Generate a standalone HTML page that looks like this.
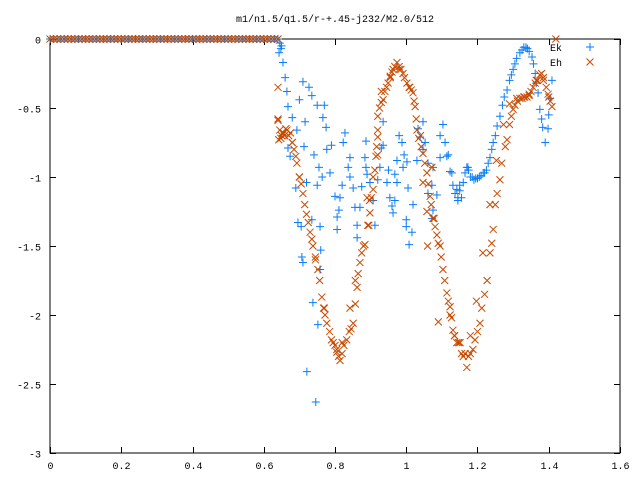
<!DOCTYPE html>
<html><head><meta charset="utf-8"><style>
body{margin:0;background:#fff}
svg text{font-family:"Liberation Mono",monospace;font-size:10px;fill:#000}
</style></head><body>
<svg id="chart" width="640" height="480" xmlns="http://www.w3.org/2000/svg">
<rect width="640" height="480" fill="#fff"/>
<text x="335" y="22" text-anchor="middle">m1/n1.5/q1.5/r-+.45-j232/M2.0/512</text>
<g id="axes"></g>
<g id="marks"></g>
<g id="legend">
<text x="550" y="51">Ek</text>
<text x="550" y="66">Eh</text>
</g>
</svg>
<script>
const xTicks=[0,0.2,0.4,0.6,0.8,1,1.2,1.4,1.6];
const xTickLabels=["0","0.2","0.4","0.6","0.8","1","1.2","1.4","1.6"];
const yTicks=[0,-0.5,-1,-1.5,-2,-2.5,-3];
const yTickLabels=["0","-0.5","-1","-1.5","-2","-2.5","-3"];
const flatX=[0,0.01,0.02,0.03,0.04,0.05,0.06,0.07,0.08,0.09,0.1,0.11,0.12,0.13,0.14,0.15,0.16,0.17,0.18,0.19,0.2,0.21,0.22,0.23,0.24,0.25,0.26,0.27,0.28,0.29,0.3,0.31,0.32,0.33,0.34,0.35,0.36,0.37,0.38,0.39,0.4,0.41,0.42,0.43,0.44,0.45,0.46,0.47,0.48,0.49,0.5,0.51,0.52,0.53,0.54,0.55,0.56,0.57,0.58,0.59,0.6,0.61,0.62,0.63,0.64];
const flatY=[0,0,0,0,0,0,0,0,0,0,0,0,0,0,0,0,0,0,0,0,0,0,0,0,0,0,0,0,0,0,0,0,0,0,0,0,0,0,0,0,0,0,0,0,0,0,0,0,0,0,0,0,0,0,0,0,0,0,0,0,0,0,0,0,0];
const ehX=[0.64,0.64,0.64,0.642,0.645,0.665,0.693,0.71,0.725,0.738,0.752,0.763,0.777,0.795,0.814,0.833,0.851,0.862,0.87,0.884,0.898,0.907,0.912,0.92,0.92,0.935,0.949,0.963,0.974,0.991,1.002,1.019,1.025,1.03,1.047,1.058,1.067,1.081,1.095,1.103,1.114,1.123,1.131,1.142,1.151,1.17,1.187,1.207,1.227,1.244,1.263,1.283,1.3,1.319,1.339,1.356,1.375,1.393,1.409,1.42,
0.92,0.907,0.92,0.895,0.897,1.047,1.06,1.058,1.072,0.65,0.655,0.68,0.7,0.745,0.77,0.8,0.805,0.82,0.842,0.857,0.89,0.93,0.955,0.98,1.01,1.04,1.09,1.135,1.16,1.18,1.197,1.215,1.235,1.253,1.273,1.29,1.31,1.33,1.345,1.365,1.385,1.4,1.075,1.123,1.165,
0.70,0.705,0.715,0.72,0.73,0.735,0.745,0.757,0.768,0.772,0.785,0.79,0.805,0.81,0.82,0.825,0.84,0.845,0.857,0.865,0.875,0.88,0.892,0.902,0.915,0.917,0.925,0.93,0.94,0.945,0.955,0.96,0.968,0.98,0.985,0.995,1.008,1.014,1.022,1.028,1.035,1.042,1.052,1.062,1.07,1.078,1.086,1.09,1.098,1.108,1.118,1.127,1.136,1.147,1.155,1.175,1.18,1.193,1.2,1.212,1.22,1.235,1.24,1.25,1.255,1.268,1.278,1.29,1.295,1.305,1.312,1.325,1.332,1.345,1.35,1.362,1.368,1.38,1.385,1.398,1.404,
0.648,0.652,0.658,0.662,0.67,0.675,0.68,0.685,0.69];
const ehY=[-0.58,-0.35,-0.59,-0.73,-0.66,-0.66,-0.9,-1.12,-1.33,-1.5,-1.67,-1.87,-2.06,-2.2,-2.33,-2.18,-2.06,-1.8,-1.62,-1.49,-1.26,-1.09,-0.95,-0.71,-0.56,-0.44,-0.32,-0.22,-0.17,-0.25,-0.32,-0.39,-0.49,-0.66,-0.83,-0.97,-1.14,-1.36,-1.5,-1.67,-1.84,-1.94,-2.11,-2.2,-2.2,-2.38,-2.25,-2.06,-1.75,-1.38,-1.02,-0.73,-0.51,-0.43,-0.42,-0.35,-0.26,-0.35,-0.49,0,
-0.66,-1.0,-0.84,-1.35,-1.17,-1.04,-1.5,-1.25,-0.93,-0.7,-0.68,-0.75,-1.0,-1.6,-1.95,-2.22,-2.25,-2.2,-1.95,-1.75,-1.15,-0.38,-0.27,-0.22,-0.35,-0.7,-2.05,-2.15,-2.3,-2.15,-1.9,-1.55,-1.2,-0.88,-0.62,-0.47,-0.43,-0.42,-0.4,-0.3,-0.3,-0.42,-1.3,-2.0,-2.28,
-1.0,-1.05,-1.2,-1.27,-1.4,-1.45,-1.58,-1.75,-1.95,-2.0,-2.12,-2.18,-2.27,-2.3,-2.28,-2.22,-2.12,-2.1,-1.92,-1.7,-1.55,-1.5,-1.35,-1.15,-0.85,-0.78,-0.5,-0.46,-0.38,-0.35,-0.28,-0.24,-0.2,-0.2,-0.22,-0.28,-0.35,-0.37,-0.45,-0.58,-0.72,-0.78,-0.9,-1.05,-1.2,-1.3,-1.42,-1.48,-1.58,-1.75,-1.9,-2.02,-2.15,-2.2,-2.28,-2.3,-2.28,-2.18,-2.12,-1.95,-1.85,-1.55,-1.48,-1.2,-1.12,-0.9,-0.78,-0.62,-0.56,-0.48,-0.45,-0.43,-0.42,-0.41,-0.38,-0.32,-0.3,-0.25,-0.28,-0.4,-0.45,
-0.72,-0.68,-0.7,-0.65,-0.7,-0.68,-0.75,-0.8,-0.85];
const ekX=[0.643,0.645,0.648,0.65,0.654,0.66,0.665,0.668,0.70,0.71,0.727,0.735,0.75,0.77,0.766,0.775,0.68,0.716,0.693,0.668,0.674,0.713,0.741,0.69,0.72,0.755,0.764,0.75,0.777,0.79,0.786,0.82,0.823,0.828,0.80,0.814,0.811,0.806,0.806,0.696,0.705,0.735,0.758,0.707,0.71,0.76,0.758,0.738,0.752,0.721,0.746,
0.842,0.837,0.842,0.851,0.856,0.87,0.862,0.862,0.887,0.884,0.887,0.89,0.875,0.898,0.907,0.912,0.92,0.926,0.93,0.935,0.935,0.95,0.946,0.954,0.96,0.963,0.968,0.968,0.974,0.974,0.98,0.988,0.994,1.002,0.991,1.005,1.019,1.0,1.0,1.016,1.008,
1.033,1.047,1.039,1.053,1.047,1.03,1.061,1.095,1.075,1.072,1.061,1.086,1.075,1.072,1.103,1.095,1.109,1.118,1.123,1.131,1.137,1.145,1.114,1.128,1.142,1.15,1.16,1.165,1.173,1.18,1.145,1.15,1.155,1.17,1.175,1.185,1.19,1.195,
1.2,1.205,1.21,1.216,1.22,1.225,1.23,1.235,1.24,1.244,1.25,1.255,1.263,1.27,1.275,1.283,1.29,1.295,1.3,1.305,1.31,1.319,1.325,1.33,1.336,1.34,1.345,1.353,1.357,1.362,1.365,1.37,1.375,1.38,1.383,1.39,1.409,1.404,1.40,1.398];
const ekY=[-0.1,-0.03,-0.07,-0.05,-0.17,-0.28,-0.38,-0.49,-0.44,-0.31,-0.35,-0.41,-0.48,-0.48,-0.57,-0.64,-0.57,-0.6,-0.66,-0.79,-0.85,-0.78,-0.84,-1.08,-1.04,-0.93,-1.0,-1.06,-0.8,-0.77,-0.97,-1.06,-0.75,-0.68,-1.14,-1.15,-1.24,-1.29,-1.38,-1.33,-1.36,-1.31,-1.36,-1.58,-1.62,-1.53,-1.67,-1.91,-2.07,-2.41,-2.63,
-0.86,-0.93,-1.0,-1.08,-1.22,-1.22,-1.35,-1.44,-0.74,-0.86,-0.93,-0.98,-1.07,-1.04,-1.17,-1.35,-1.02,-0.93,-0.79,-0.6,-0.77,-0.95,-1.04,-1.15,-1.21,-1.26,-1.17,-0.98,-1.04,-0.88,-0.7,-0.75,-0.84,-0.89,-0.93,-1.08,-1.2,-1.31,-1.36,-1.4,-1.49,
-0.65,-0.6,-0.71,-0.75,-0.8,-0.88,-0.9,-0.86,-0.93,-1.06,-1.12,-1.13,-1.24,-1.3,-0.62,-0.7,-0.75,-0.84,-0.96,-1.06,-1.12,-1.15,-0.85,-0.97,-1.09,-1.06,-1.04,-0.97,-0.93,-1.0,-1.17,-1.1,-1.15,-0.93,-0.95,-1.0,-1.02,-1.01,
-1.01,-1.0,-0.99,-0.97,-0.97,-0.95,-0.9,-0.86,-0.8,-0.75,-0.7,-0.63,-0.56,-0.48,-0.42,-0.37,-0.3,-0.26,-0.22,-0.18,-0.14,-0.1,-0.08,-0.06,-0.06,-0.07,-0.09,-0.13,-0.18,-0.25,-0.32,-0.39,-0.51,-0.58,-0.64,-0.75,-0.3,-0.43,-0.55,-0.65];

const L=50,R=620,T=39,B=453;
const sx=v=>L+(v-0)/(1.6-0)*(R-L);
const sy=v=>T+(0-v)/(0-(-3))*(B-T);
const NS="http://www.w3.org/2000/svg";
function mk(tag,attrs,parent){const e=document.createElementNS(NS,tag);for(const k in attrs)e.setAttribute(k,attrs[k]);parent.appendChild(e);return e;}
const axes=document.getElementById('axes');
const frame=mk('rect',{x:L,y:T,width:R-L,height:B-T,fill:'none',stroke:'#000','stroke-width':1},axes);


xTicks.forEach((v,i)=>{
  const x=Math.round(sx(v))+0.5;
  const t=mk('path',{d:`M${x},${B}V${B-6}M${x},${T}V${T+6}`,stroke:'#000','stroke-width':1},axes);
  
  
  const lb=mk('text',{x:x,y:B+16,'text-anchor':'middle'},axes);lb.textContent=xTickLabels[i];
  
  
});
yTicks.forEach((v,i)=>{
  const y=Math.round(sy(v))+0.5;
  const t=mk('path',{d:`M${L},${y}H${L+6}M${R},${y}H${R-6}`,stroke:'#000','stroke-width':1},axes);
  
  
  const lb=mk('text',{x:L-9,y:y+4,'text-anchor':'end'},axes);lb.textContent=yTickLabels[i];
  
  
});
const marks=document.getElementById('marks');
const BLUE='#0a7cf5',ORANGE='#c84a00';
function plus(x,y,c,name){const e=mk('path',{d:`M${x-4},${y}H${x+4}M${x},${y-4}V${y+4}`,stroke:c,'stroke-width':1,fill:'none'},marks);
  
  }
function cross(x,y,c,name){const e=mk('path',{d:`M${x-3.5},${y-3.5}L${x+3.5},${y+3.5}M${x-3.5},${y+3.5}L${x+3.5},${y-3.5}`,stroke:c,'stroke-width':1,fill:'none'},marks);
  
  }
flatX.forEach((v,i)=>plus(sx(v),sy(flatY[i]),BLUE,'ek-point'));
ekX.forEach((v,i)=>plus(sx(v),sy(ekY[i]),BLUE,'ek-point'));
flatX.forEach((v,i)=>cross(sx(v),sy(flatY[i]),ORANGE,'eh-point'));
ehX.forEach((v,i)=>cross(sx(v),sy(ehY[i]),ORANGE,'eh-point'));
plus(590,47,BLUE,'legend-sample-ek');
cross(590,62,ORANGE,'legend-sample-eh');
</script>
</body></html>
